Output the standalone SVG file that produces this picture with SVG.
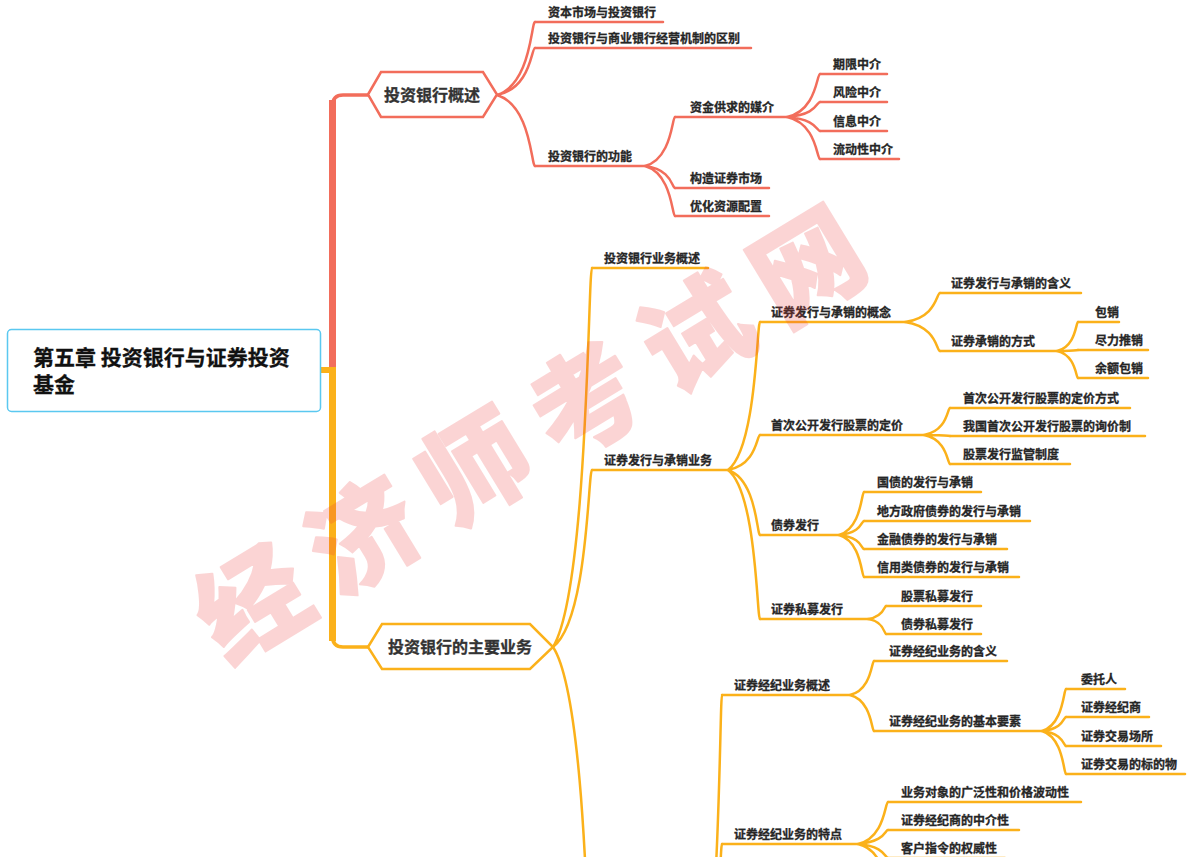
<svg xmlns="http://www.w3.org/2000/svg" width="1189" height="857" viewBox="0 0 1189 857">
<style>
.t{font-family:"Noto Sans CJK SC","Microsoft YaHei",sans-serif;font-size:12px;font-weight:bold;fill:#262626;stroke:#262626;stroke-width:0.3}
.h{font-family:"Noto Sans CJK SC","Microsoft YaHei",sans-serif;font-size:16px;font-weight:bold;fill:#333;stroke:#333;stroke-width:0.3;text-anchor:middle}
.r{stroke:#F26D5B;stroke-width:2.5;fill:none;stroke-linecap:round}
.o{stroke:#FBB11A;stroke-width:2.5;fill:none;stroke-linecap:round}
.wm{font-family:"Noto Sans CJK SC",sans-serif;font-size:108px;font-weight:900;fill:#EE3B3B;stroke:#EE3B3B;stroke-width:2;stroke-linejoin:round;opacity:0.21}
</style>
<rect width="1189" height="857" fill="#fff"/>
<g id="trunk">
<rect x="329" y="100" width="7" height="270" fill="#F26D5B"/>
<path d="M332.5,106 Q332.5,95 343,95 L368,95" stroke="#F26D5B" stroke-width="3.5" fill="none"/>
<rect x="329" y="367" width="7" height="274" fill="#FBB11A"/>
<rect x="320" y="367" width="12" height="6" fill="#FBB11A"/>
<path d="M332.5,636 Q332.5,647 343,647 L368,647" stroke="#FBB11A" stroke-width="3.5" fill="none"/>
</g>
<g id="connectors">
<path class="r" d="M497 95C531.2 84 531.2 22 535 22M497 95C531.2 88 531.2 48 535 48M497 95C531.2 105.7 531.2 166 535 166"/>
<path class="r" d="M645 166C672 158.6 672 117 675 117M645 166C672 169.3 672 188 675 188M645 166C672 173.5 672 216 675 216"/>
<path class="r" d="M787 117C816.7 110.6 816.7 74 820 74M787 117C816.7 114.8 816.7 102 820 102M787 117C816.7 119.1 816.7 131 820 131M787 117C816.7 123.3 816.7 159 820 159"/>
<path class="o" d="M553 647C588.1 590.2 588.1 268 592 268M553 647C588.1 620.5 588.1 470 592 470M553 647C588.1 700 588.1 1000 592 1000"/>
<path class="o" d="M728 470C756.8 447.8 756.8 322 760 322M728 470C756.8 464.8 756.8 435 760 435M728 470C756.8 479.8 756.8 535 760 535M728 470C756.8 492.4 756.8 619 760 619"/>
<path class="o" d="M905 322C936.5 317.7 936.5 293 940 293M905 322C936.5 326.4 936.5 351 940 351"/>
<path class="o" d="M1057 351C1075.9 346.7 1075.9 322 1078 322M1057 351C1075.9 350.9 1075.9 350 1078 350M1057 351C1075.9 355 1075.9 378 1078 378"/>
<path class="o" d="M924 435C947.4 431 947.4 408 950 408M924 435C947.4 435.2 947.4 436 950 436M924 435C947.4 439.4 947.4 464 950 464"/>
<path class="o" d="M839 535C861.5 528.6 861.5 492 864 492M839 535C861.5 532.9 861.5 521 864 521M839 535C861.5 537.1 861.5 549 864 549M839 535C861.5 541.3 861.5 577 864 577"/>
<path class="o" d="M868 619C884.2 617 884.2 606 886 606M868 619C884.2 621.3 884.2 634 886 634"/>
<path class="o" d="M700 1000C719.8 954.3 719.8 695 722 695M700 1000C719.8 976.6 719.8 844 722 844"/>
<path class="o" d="M850 695C871.6 689.9 871.6 661 874 661M850 695C871.6 700.4 871.6 731 874 731"/>
<path class="o" d="M1042 731C1063.6 724.7 1063.6 689 1066 689M1042 731C1063.6 728.9 1063.6 717 1066 717M1042 731C1063.6 733.3 1063.6 746 1066 746M1042 731C1063.6 737.5 1063.6 774 1066 774"/>
<path class="o" d="M858 844C885 837.7 885 802 888 802M858 844C885 841.9 885 830 888 830M858 844C885 846.1 885 858 888 858M858 844C885 850.3 885 886 888 886"/>
</g>
<g id="root">
<rect x="7.5" y="329.5" width="313" height="82" rx="4" fill="#fff" stroke="#5AC8F0" stroke-width="1.5"/>
<text x="33" y="365" font-family="'Noto Sans CJK SC','Microsoft YaHei',sans-serif" font-size="21" font-weight="bold" fill="#111" stroke="#111" stroke-width="0.3">第五章 投资银行与证券投资</text>
<text x="33" y="392" font-family="'Noto Sans CJK SC','Microsoft YaHei',sans-serif" font-size="21" font-weight="bold" fill="#111" stroke="#111" stroke-width="0.3">基金</text>
</g>
<g id="n-overview">
<polygon points="368,94.5 381,72 483,72 497,94.5 483,117 381,117" fill="#fff" stroke="#F26D5B" stroke-width="2.5"/>
<text class="h" x="432" y="100.5">投资银行概述</text>
</g>
<g id="n-main">
<polygon points="368,647 382,624 530,624 553,647 530,669 382,669" fill="#fff" stroke="#FBB11A" stroke-width="2.5"/>
<text class="h" x="460" y="653">投资银行的主要业务</text>
</g>
<g id="n-a1"><line class="r" x1="535" y1="22" x2="663" y2="22"/><text class="t" x="548" y="17">资本市场与投资银行</text></g>
<g id="n-a2"><line class="r" x1="535" y1="48" x2="751" y2="48"/><text class="t" x="548" y="43">投资银行与商业银行经营机制的区别</text></g>
<g id="n-a3"><line class="r" x1="535" y1="166" x2="645" y2="166"/><text class="t" x="548" y="161">投资银行的功能</text></g>
<g id="n-a31"><line class="r" x1="675" y1="117" x2="787" y2="117"/><text class="t" x="690" y="112">资金供求的媒介</text></g>
<g id="n-a32"><line class="r" x1="675" y1="188" x2="769" y2="188"/><text class="t" x="690" y="183">构造证券市场</text></g>
<g id="n-a33"><line class="r" x1="675" y1="216" x2="769" y2="216"/><text class="t" x="690" y="211">优化资源配置</text></g>
<g id="n-a311"><line class="r" x1="820" y1="74" x2="887" y2="74"/><text class="t" x="833" y="69">期限中介</text></g>
<g id="n-a312"><line class="r" x1="820" y1="102" x2="887" y2="102"/><text class="t" x="833" y="97">风险中介</text></g>
<g id="n-a313"><line class="r" x1="820" y1="131" x2="887" y2="131"/><text class="t" x="833" y="126">信息中介</text></g>
<g id="n-a314"><line class="r" x1="820" y1="159" x2="899" y2="159"/><text class="t" x="833" y="154">流动性中介</text></g>
<g id="n-b1"><line class="o" x1="592" y1="268" x2="708" y2="268"/><text class="t" x="604" y="263">投资银行业务概述</text></g>
<g id="n-b2"><line class="o" x1="592" y1="470" x2="728" y2="470"/><text class="t" x="604" y="465">证券发行与承销业务</text></g>
<g id="n-b21"><line class="o" x1="760" y1="322" x2="905" y2="322"/><text class="t" x="771" y="317">证券发行与承销的概念</text></g>
<g id="n-b211"><line class="o" x1="940" y1="293" x2="1081" y2="293"/><text class="t" x="951" y="288">证券发行与承销的含义</text></g>
<g id="n-b212"><line class="o" x1="940" y1="351" x2="1057" y2="351"/><text class="t" x="951" y="346">证券承销的方式</text></g>
<g id="n-b2121"><line class="o" x1="1078" y1="322" x2="1119" y2="322"/><text class="t" x="1095" y="317">包销</text></g>
<g id="n-b2122"><line class="o" x1="1078" y1="350" x2="1148" y2="350"/><text class="t" x="1095" y="345">尽力推销</text></g>
<g id="n-b2123"><line class="o" x1="1078" y1="378" x2="1148" y2="378"/><text class="t" x="1095" y="373">余额包销</text></g>
<g id="n-b22"><line class="o" x1="760" y1="435" x2="924" y2="435"/><text class="t" x="771" y="430">首次公开发行股票的定价</text></g>
<g id="n-b221"><line class="o" x1="950" y1="408" x2="1130" y2="408"/><text class="t" x="963" y="403">首次公开发行股票的定价方式</text></g>
<g id="n-b222"><line class="o" x1="950" y1="436" x2="1145" y2="436"/><text class="t" x="963" y="431">我国首次公开发行股票的询价制</text></g>
<g id="n-b223"><line class="o" x1="950" y1="464" x2="1070" y2="464"/><text class="t" x="963" y="459">股票发行监管制度</text></g>
<g id="n-b23"><line class="o" x1="760" y1="535" x2="839" y2="535"/><text class="t" x="771" y="530">债券发行</text></g>
<g id="n-b231"><line class="o" x1="864" y1="492" x2="981" y2="492"/><text class="t" x="877" y="487">国债的发行与承销</text></g>
<g id="n-b232"><line class="o" x1="864" y1="521" x2="1030" y2="521"/><text class="t" x="877" y="516">地方政府债券的发行与承销</text></g>
<g id="n-b233"><line class="o" x1="864" y1="549" x2="1007" y2="549"/><text class="t" x="877" y="544">金融债券的发行与承销</text></g>
<g id="n-b234"><line class="o" x1="864" y1="577" x2="1019" y2="577"/><text class="t" x="877" y="572">信用类债券的发行与承销</text></g>
<g id="n-b24"><line class="o" x1="760" y1="619" x2="868" y2="619"/><text class="t" x="771" y="614">证券私募发行</text></g>
<g id="n-b241"><line class="o" x1="886" y1="606" x2="981" y2="606"/><text class="t" x="901" y="601">股票私募发行</text></g>
<g id="n-b242"><line class="o" x1="886" y1="634" x2="981" y2="634"/><text class="t" x="901" y="629">债券私募发行</text></g>
<g id="n-c1"><line class="o" x1="722" y1="695" x2="850" y2="695"/><text class="t" x="734" y="690">证券经纪业务概述</text></g>
<g id="n-c11"><line class="o" x1="874" y1="661" x2="1007" y2="661"/><text class="t" x="889" y="656">证券经纪业务的含义</text></g>
<g id="n-c12"><line class="o" x1="874" y1="731" x2="1042" y2="731"/><text class="t" x="889" y="726">证券经纪业务的基本要素</text></g>
<g id="n-c121"><line class="o" x1="1066" y1="689" x2="1125" y2="689"/><text class="t" x="1081" y="684">委托人</text></g>
<g id="n-c122"><line class="o" x1="1066" y1="717" x2="1149" y2="717"/><text class="t" x="1081" y="712">证券经纪商</text></g>
<g id="n-c123"><line class="o" x1="1066" y1="746" x2="1161" y2="746"/><text class="t" x="1081" y="741">证券交易场所</text></g>
<g id="n-c124"><line class="o" x1="1066" y1="774" x2="1185" y2="774"/><text class="t" x="1081" y="769">证券交易的标的物</text></g>
<g id="n-c2"><line class="o" x1="722" y1="844" x2="858" y2="844"/><text class="t" x="734" y="839">证券经纪业务的特点</text></g>
<g id="n-c21"><line class="o" x1="888" y1="802" x2="1081" y2="802"/><text class="t" x="901" y="797">业务对象的广泛性和价格波动性</text></g>
<g id="n-c22"><line class="o" x1="888" y1="830" x2="1019" y2="830"/><text class="t" x="901" y="825">证券经纪商的中介性</text></g>
<g id="n-c23"><line class="o" x1="888" y1="858" x2="1005" y2="858"/><text class="t" x="901" y="853">客户指令的权威性</text></g>
<g id="watermark" transform="translate(529.5,433.5) rotate(-31.3)">
<text class="wm" x="-379" y="41" letter-spacing="22">经济师考试网</text>
</g>
</svg>
